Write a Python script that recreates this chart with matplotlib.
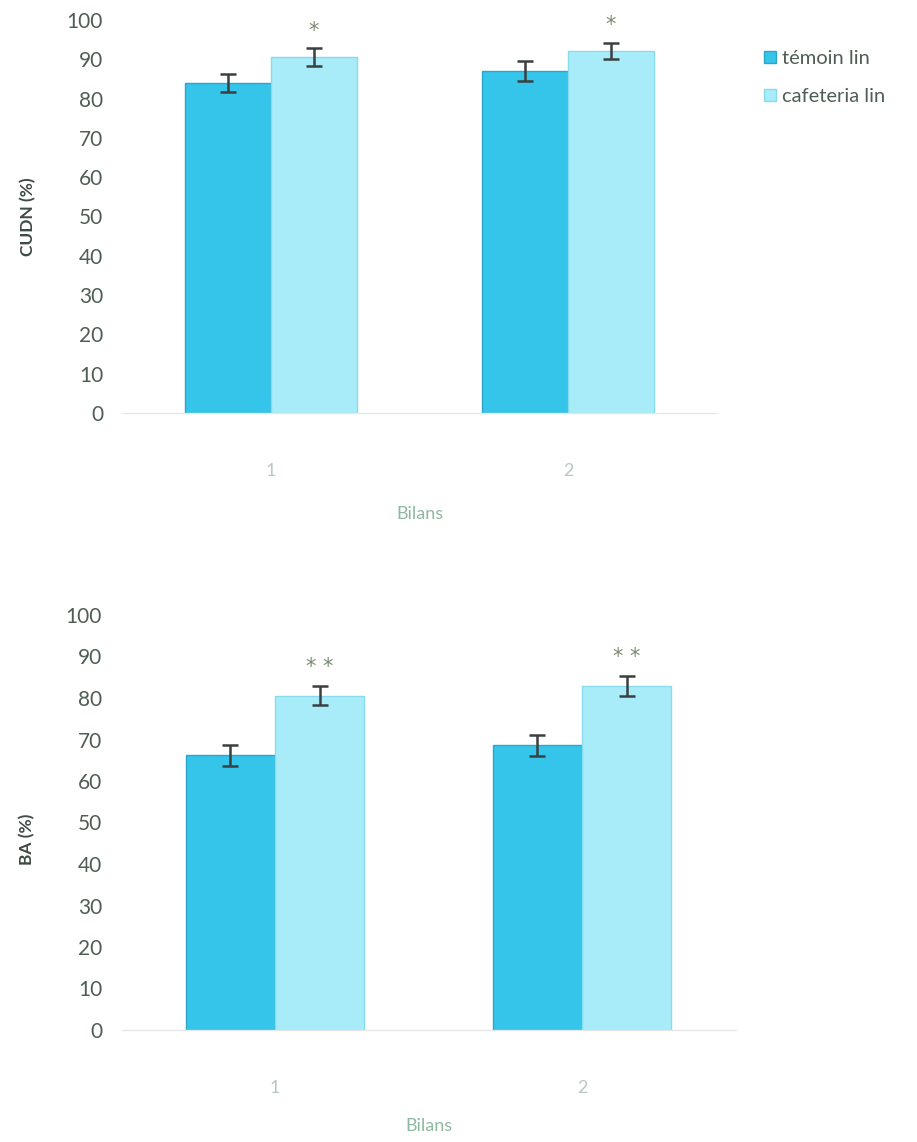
import matplotlib
matplotlib.use("Agg")
import matplotlib.pyplot as plt
import numpy as np

# ---- data ----
categories = ["1", "2"]
series_names = ["témoin lin", "cafeteria lin"]

cudn_temoin = [84.0, 87.0]
cudn_temoin_err = [2.3, 2.6]
cudn_cafet = [90.6, 92.1]
cudn_cafet_err = [2.2, 2.1]
cudn_stars = ["*", "*"]

ba_temoin = [66.2, 68.6]
ba_temoin_err = [2.5, 2.6]
ba_cafet = [80.6, 82.9]
ba_cafet_err = [2.4, 2.5]
ba_stars = ["* *", "* *"]

yticks = [0, 10, 20, 30, 40, 50, 60, 70, 80, 90, 100]

# ---- style ----
FONT = ["Lato", "DejaVu Sans"]
plt.rcParams['font.family'] = FONT
c_tem = "#35C4EA"
c_caf = "#A9ECF9"
e_tem = "#2CA6C8"
e_caf = "#86DCEB"
tick_col = "#4F5E55"
faint_col = "#B9C7BE"
bilans_col = "#8DB8A2"
err_col = "#3A3F3F"

fig = plt.figure(figsize=(9.17, 11.42), dpi=100)

W = 1142.0
FW = 917.0
ax1 = fig.add_axes([122.5 / FW, 1 - 413 / W, 594 / FW, 393 / W])
ax2 = fig.add_axes([121.5 / FW, 1 - 1030 / W, 614 / FW, 415 / W])


def draw(ax, tem, tem_err, caf, caf_err, stars, ylabel, star_off):
    x = np.arange(len(categories))
    w = 0.29
    b1 = ax.bar(x - w / 2, tem, width=w, color=c_tem, edgecolor=e_tem, linewidth=1.0,
                label=series_names[0], zorder=2)
    b2 = ax.bar(x + w / 2, caf, width=w, color=c_caf, edgecolor=e_caf, linewidth=1.0,
                label=series_names[1], zorder=2)
    ax.errorbar(x - w / 2, tem, yerr=tem_err, fmt='none', ecolor=err_col,
                elinewidth=1.8, capsize=5.5, capthick=1.8, zorder=3)
    ax.errorbar(x + w / 2, caf, yerr=caf_err, fmt='none', ecolor=err_col,
                elinewidth=1.8, capsize=5.5, capthick=1.8, zorder=3)
    for xi, v, e, s in zip(x + w / 2, caf, caf_err, stars):
        ax.text(xi, v + e + star_off, s, ha='center', va='center',
                fontsize=15, color="#7C8A72", family=["DejaVu Sans"])
    ax.set_xlim(-0.5, 1.5)
    ax.set_ylim(0, 100)
    ax.set_yticks(yticks)
    ax.set_yticklabels([str(t) for t in yticks])
    ax.set_xticks(x)
    ax.set_xticklabels(categories)
    ax.tick_params(axis='y', length=0, pad=14, labelsize=15, labelcolor=tick_col)
    ax.tick_params(axis='x', length=0, pad=36, labelsize=13, labelcolor=faint_col)
    for s in ["top", "right", "left"]:
        ax.spines[s].set_visible(False)
    ax.spines["bottom"].set_color("#E3E8E6")
    ax.spines["bottom"].set_linewidth(1.0)
    ax.set_ylabel(ylabel, fontsize=12.5, fontweight='bold', color="#3E4A44")
    ax.set_xlabel("Bilans", fontsize=13, color=bilans_col)
    return b1, b2


draw(ax1, cudn_temoin, cudn_temoin_err, cudn_cafet, cudn_cafet_err, cudn_stars,
     "CUDN (%)", 4.5)
ax1.xaxis.set_label_coords(0.5, -0.237)
ax1.yaxis.set_label_coords(-0.146, 0.50)
draw(ax2, ba_temoin, ba_temoin_err, ba_cafet, ba_cafet_err, ba_stars,
     "BA (%)", 4.5)
ax2.xaxis.set_label_coords(0.5, -0.212)
ax2.yaxis.set_label_coords(-0.141, 0.46)

leg = ax1.legend(loc='upper left', bbox_to_anchor=(756 / FW, 1 - 42 / W),
                 bbox_transform=fig.transFigure, frameon=False, fontsize=14.5,
                 handlelength=0.6, handleheight=0.6, handletextpad=0.3,
                 labelspacing=1.05, borderaxespad=0)
for t in leg.get_texts():
    t.set_color(tick_col)

fig.savefig("out.png", dpi=100, facecolor="white")
